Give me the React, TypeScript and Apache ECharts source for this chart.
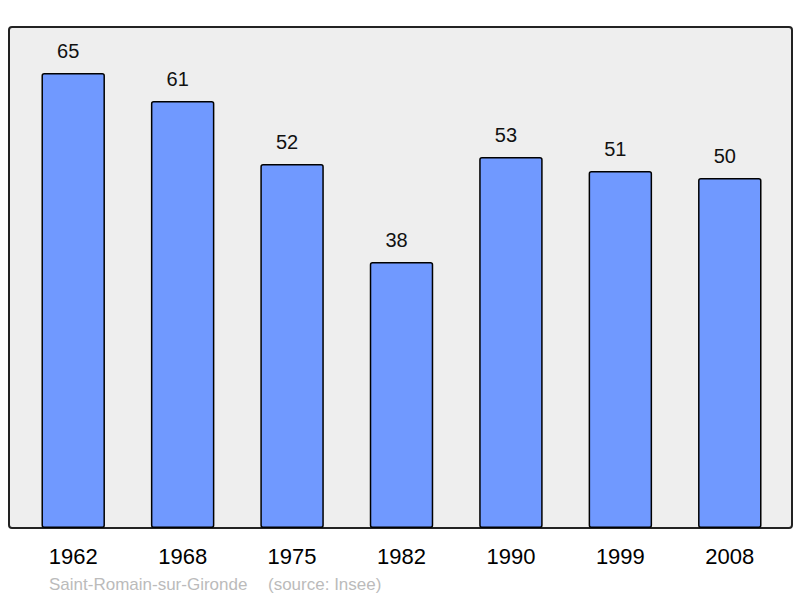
import React, { useEffect, useRef } from 'react';
import * as echarts from 'echarts';

const years = ['1962', '1968', '1975', '1982', '1990', '1999', '2008'];
const population = [65, 61, 52, 38, 53, 51, 50];
const placeName = 'Saint-Romain-sur-Gironde';
const sourceText = '(source: Insee)';

const App: React.FC = () => {
  const chartRef = useRef<HTMLDivElement>(null);

  useEffect(() => {
    if (!chartRef.current) return;
    const chart = echarts.init(chartRef.current, null, { renderer: 'svg' });

    const option = {
      animation: false,
      textStyle: { fontFamily: 'Liberation Sans, Arial, sans-serif' },
      graphic: [
        {
          type: 'rect',
          z: -10,
          shape: { x: 9, y: 27, width: 783, height: 501, r: 3 },
          style: { fill: '#eeeeee', stroke: '#222222', lineWidth: 2 },
        },
        {
          type: 'text',
          x: 49,
          y: 584,
          style: {
            text: placeName,
            fill: '#bbbbbb',
            fontSize: 17,
            fontFamily: 'Liberation Sans, Arial, sans-serif',
            verticalAlign: 'middle',
          },
        },
        {
          type: 'text',
          x: 268,
          y: 584,
          style: {
            text: sourceText,
            fill: '#bbbbbb',
            fontSize: 17,
            fontFamily: 'Liberation Sans, Arial, sans-serif',
            verticalAlign: 'middle',
          },
        },
      ],
      grid: { left: 18.5, top: 27, width: 766, height: 501 },
      xAxis: {
        type: 'category',
        data: years,
        axisLine: { show: false },
        axisTick: { show: false },
        axisLabel: { color: '#000000', fontSize: 22, margin: 17 },
      },
      yAxis: {
        type: 'value',
        min: 0,
        max: 501 / 7,
        show: false,
        splitLine: { show: false },
      },
      series: [
        {
          type: 'bar',
          data: population,
          barWidth: '58%',
          itemStyle: {
            color: '#7099ff',
            borderColor: '#000000',
            borderWidth: 1.5,
            borderRadius: 2,
          },
          label: {
            show: true,
            position: 'top',
            distance: 12,
            offset: [-5, 0],
            color: '#111111',
            fontSize: 20,
          },
        },
      ],
    };

    chart.setOption(option);

    return () => {
      chart.dispose();
    };
  }, []);

  return (
    <div
      ref={chartRef}
      style={{ position: 'absolute', left: 0, top: 0, width: 800, height: 598 }}
    ></div>
  );
};

export default App;
